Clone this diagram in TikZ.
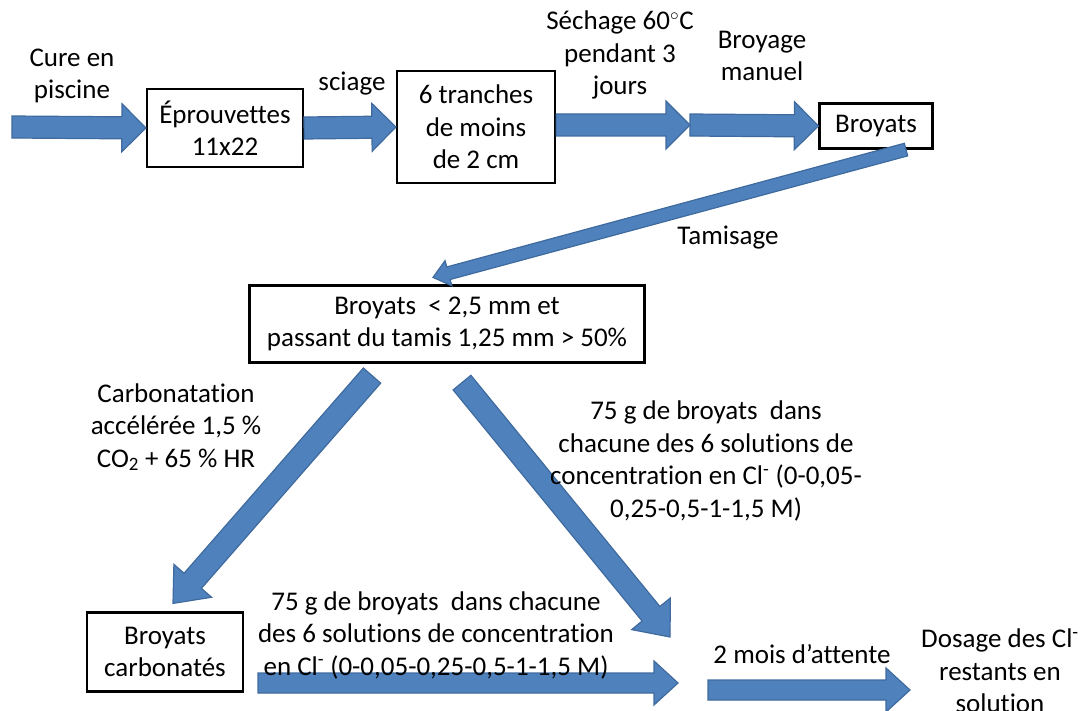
\documentclass[tikz,border=0pt]{standalone}
\usepackage{fontspec}
\setmainfont{Carlito}[Ligatures=NoCommon]
\usepackage{tikz}
\usetikzlibrary{calc}
\definecolor{FlecheBleu}{HTML}{4F81BD}
\definecolor{FlecheBord}{HTML}{3F6A9E}

% fleche epaisse : depart, arrivee, demi-largeur, demi-tete, longueur tete
\newcommand{\grossefleche}[5]{%
  \path (#1) coordinate (fa) (#2) coordinate (fb);
  \path ($(fb)!#5!(fa)$) coordinate (fh);
  \filldraw[fleche] ($(fa)!#3!90:(fb)$) -- ($(fh)!#3!-90:(fa)$)
    -- ($(fh)!#4!-90:(fa)$) -- (fb) -- ($(fh)!#4!90:(fa)$)
    -- ($(fh)!#3!90:(fa)$) -- ($(fa)!#3!-90:(fb)$) -- cycle;
}

\tikzset{
  fleche/.style={fill=FlecheBleu,draw=FlecheBord,line width=1.2pt,line join=miter},
  boite/.style={draw,line width=2.2pt,fill=white,align=center,inner sep=0pt},
  legende/.style={align=center,inner sep=0pt},
}

\begin{document}
\begin{tikzpicture}[x=1pt,y=-1pt,font=\fontsize{27}{32.5}\selectfont]
\useasboundingbox (0,0) rectangle (1082,711);

% boites
\node[boite,minimum width=156pt,minimum height=78pt] (epr) at (225,128) {Éprouvettes\\11x22};
\node[boite,minimum width=158pt,minimum height=112pt] (tranches) at (476,127) {6 tranches\\de moins\\de 2 cm};
\node[boite,minimum width=113pt,minimum height=45pt] (broy) at (876,126) {Broyats};
\node[boite,minimum width=395pt,minimum height=77pt] (tamis) at (447,324)
  {Broyats\ \ < 2,5 mm et\\passant du tamis 1,25 mm > 50\%};
\node[boite,minimum width=156pt,minimum height=79pt] (carb) at (165,652) {Broyats\\carbonatés};

% extremites libres
\coordinate (cure) at (12,127);
\coordinate (seche) at (690,125);
\coordinate (melange) at (670,637);
\coordinate (depart) at (258,683);
\coordinate (arrivee) at (678,683);
\coordinate (attente) at (708,690);
\coordinate (dosage) at (910,690);

% fleches
\grossefleche{cure}{epr.west}{11pt}{24pt}{24pt}
\grossefleche{epr.east}{tranches.west}{11pt}{24pt}{24pt}
\grossefleche{[yshift=2pt]tranches.east}{seche}{11pt}{24pt}{24pt}
\grossefleche{seche}{broy.west}{11pt}{24pt}{24pt}
\grossefleche{[xshift=30pt]broy.south}{[xshift=-14pt,yshift=7pt]tamis.north}{6.5pt}{13pt}{16pt}
\grossefleche{[xshift=-75pt,yshift=-12pt]tamis.south}{[xshift=8pt,yshift=8pt]carb.north}{11.5pt}{25pt}{30pt}
\grossefleche{[xshift=15pt,yshift=-19pt]tamis.south}{melange}{11.5pt}{25pt}{30pt}
\grossefleche{depart}{arrivee}{10pt}{22pt}{24pt}
\grossefleche{attente}{dosage}{10pt}{22pt}{24pt}

% legendes
\node[legende] (l-cure) at (72,76) {Cure en\\piscine};
\node[legende] (l-sciage) at (352,84) {sciage};
\node[legende] (l-sechage) at (620,55) {Séchage 60$^\circ$C\\pendant 3\\jours};
\node[legende] (l-broyage) at (762,56) {Broyage\\manuel};
\node[legende] (l-tamisage) at (728,238) {Tamisage};
\node[legende] (l-carbo) at (176,427) {Carbonatation\\accélérée 1,5 \%\\CO\textsubscript{2} + 65 \% HR};
\node[legende] (l-sol1) at (706,461)
  {75 g de broyats\ \ dans\\chacune des 6 solutions de\\concentration en Cl\textsuperscript{-} (0-0,05-\\0,25-0,5-1-1,5 M)};
\node[legende] (l-sol2) at (436,635)
  {75 g de broyats\ \ dans chacune\\des 6 solutions de concentration\\en Cl\textsuperscript{-} (0-0,05-0,25-0,5-1-1,5 M)};
\node[legende] (l-attente) at (802,654) {2 mois d’attente};
\node[legende] (l-dosage) at (1000,671) {Dosage des Cl\textsuperscript{-}\\restants en\\solution};
\end{tikzpicture}
\end{document}
